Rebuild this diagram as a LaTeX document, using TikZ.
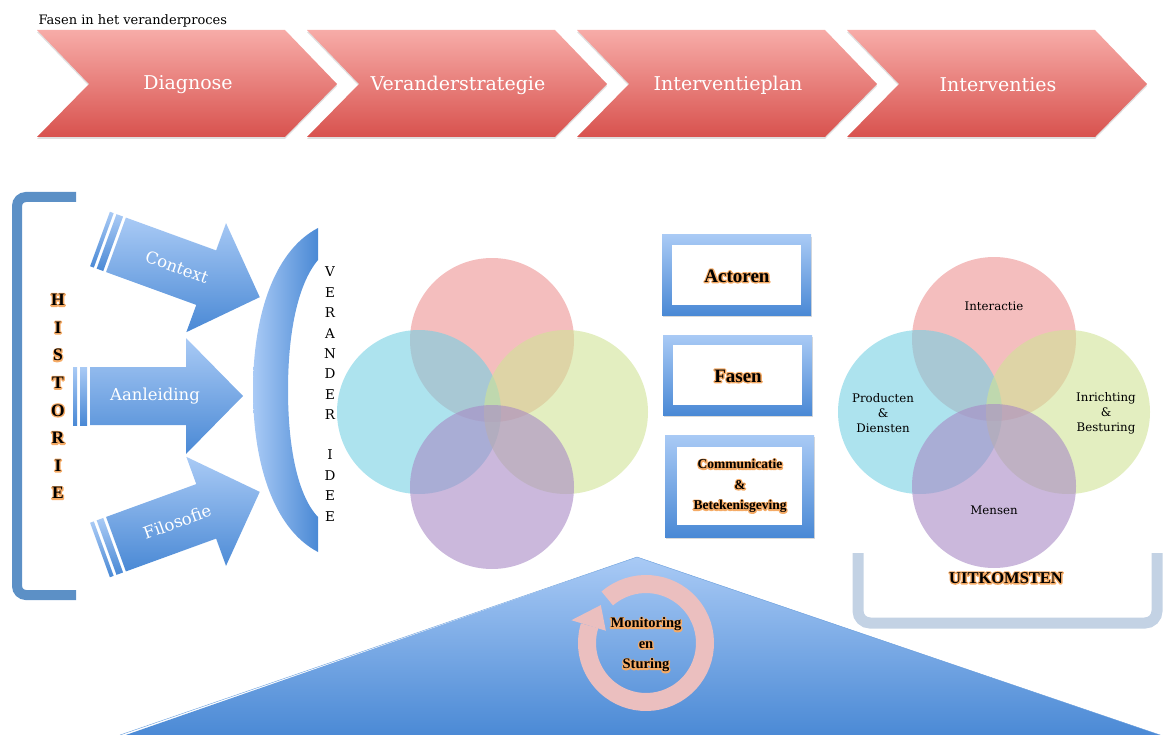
\documentclass[tikz,border=0pt]{standalone}
\usepackage{fontspec}
\setmainfont{DejaVu Serif}
\newfontfamily\vetfont{Liberation Serif}
\usetikzlibrary{shadows}

\definecolor{faseboven}{HTML}{F7ACA8}
\definecolor{faseonder}{HTML}{D8524E}
\definecolor{blauwlicht}{HTML}{A9CAF5}
\definecolor{blauwdonker}{HTML}{4A89D5}
\definecolor{haakblauw}{HTML}{5C90C6}
\definecolor{rood}{HTML}{ED9393}
\definecolor{cyaan}{HTML}{76D0E3}
\definecolor{groen}{HTML}{D0E396}
\definecolor{paars}{HTML}{A889C5}
\definecolor{ringroze}{HTML}{EBBFBF}
\definecolor{bakgrijs}{HTML}{C3D2E4}

% oranje gloed: eerst de omtrek van de letters in oranje, dan de letters zelf
\newcommand{\gloei}[1]{\leavevmode\rlap{\special{pdf:literal direct q 1 Tr 2.6 w 1 j 1 J 0.96 0.67 0.40 RG}#1\special{pdf:literal direct Q}}#1}

% blokpijl met strepen aan de staart: {startpunt}{hoek}{tekst}{naam}
\newcommand{\blokpijl}[4]{%
  \begin{scope}[shift={#1}, rotate=#2]
    \path[pijl] (0,-29) rectangle (4,29);
    \path[pijl] (7,-29) rectangle (14,29);
    \path[pijl] (17,-29) -- (113,-29) -- (113,-58) -- (170,0) -- (113,58)
      -- (113,29) -- (17,29) -- cycle;
    \node[pijltekst, rotate=#2] (#4) at (82,0) {#3};
  \end{scope}}

\tikzset{
  fase/.style={top color=faseboven, bottom color=faseonder,
    drop shadow={opacity=0.25, shadow xshift=0pt, shadow yshift=-2pt}},
  fasetekst/.style={text=white, font=\fontsize{19}{22}\selectfont},
  pijl/.style={top color=blauwlicht, bottom color=blauwdonker},
  pijltekst/.style={text=white, font=\fontsize{16.5}{19}\selectfont},
  cirkel/.style={fill opacity=0.6},
  lijst/.style={top color=blauwlicht, bottom color=blauwdonker,
    drop shadow={opacity=0.3, shadow xshift=1pt, shadow yshift=-2pt}},
  vettekst/.style={align=center, font=\vetfont\bfseries\fontsize{#1}{20.5}\selectfont},
  venntekst/.style={align=center, font=\fontsize{11.8}{15}\selectfont},
  letter/.style={font=\fontsize{13.5}{15}\selectfont},
}

\begin{document}
\begin{tikzpicture}[x=1pt, y=-1pt]
  \useasboundingbox (0,0) rectangle (1166,735);

  \node[anchor=base west, font=\fontsize{13}{15}\selectfont] (titel) at (35,25)
    {Fasen in het veranderproces};

  % de vier fasen
  \foreach \i/\naam in {0/Diagnose, 1/Veranderstrategie, 2/Interventieplan, 3/Interventies}{
    \begin{scope}[shift={(\i*270,0)}]
      \path[fase] (37,30) -- (285,30) -- (337,84) -- (285,137) -- (37,137)
        -- (89,84) -- cycle;
      \node[fasetekst] (fase-\i) at (188,85) {\naam};
    \end{scope}
  }

  % historie-haak
  \draw[haakblauw, line width=10pt, rounded corners=9pt]
    (76,197) -- (17,197) -- (17,595) -- (76,595);
  \foreach \l [count=\k] in {H,I,S,T,O,R,I,E}
    \node[vettekst=17.5] (hist-\k) at (58,{300+27.6*(\k-1)}) {\gloei{\l}};

  % drie pijlen naar het veranderidee
  \blokpijl{(100,239)}{-20}{Context}{context}
  \blokpijl{(73,396)}{0}{Aanleiding}{aanleiding}
  \blokpijl{(100,550)}{20}{Filosofie}{filosofie}

  \path[left color=blauwlicht, right color=blauwdonker]
    (318,228) .. controls (272,252) and (253,320) .. (253,390)
    .. controls (253,460) and (272,528) .. (318,552) -- (318,517)
    .. controls (297,495) and (288,445) .. (288,390)
    .. controls (288,335) and (297,285) .. (318,260) -- cycle;
  \foreach \l [count=\k] in {V,E,R,A,N,D,E,R}
    \node[letter] (ver-\k) at (330,{272+20.4*(\k-1)}) {\l};
  \foreach \l [count=\k] in {I,D,E,E}
    \node[letter] (idee-\k) at (330,{455+20.4*(\k-1)}) {\l};

  % venn zonder tekst
  \fill[cirkel, rood] (492,340) circle[radius=82];
  \fill[cirkel, cyaan] (419,412) circle[radius=82];
  \fill[cirkel, groen] (566,412) circle[radius=82];
  \fill[cirkel, paars] (492,487) circle[radius=82];

  % kaders
  \path[lijst] (662,235) rectangle (811,315);
  \fill[white] (672,245) rectangle (801,305);
  \node[vettekst=19] (actoren) at (737,276) {\gloei{Actoren}};
  \path[lijst] (663,335) rectangle (812,415);
  \fill[white] (673,345) rectangle (802,405);
  \node[vettekst=19] (fasen) at (738,376) {\gloei{Fasen}};
  \path[lijst] (665,435) rectangle (814,537);
  \fill[white] (677,447) rectangle (802,525);
  \node[vettekst=13.5] (communicatie) at (740,486)
    {\gloei{Communicatie}\\\gloei{\&}\\\gloei{Betekenisgeving}};

  % uitkomsten
  \draw[bakgrijs, line width=11pt, rounded corners=12pt]
    (858,553) -- (858,623) -- (1157,623) -- (1157,553);
  \fill[cirkel, rood] (994,339) circle[radius=82];
  \fill[cirkel, cyaan] (920,412) circle[radius=82];
  \fill[cirkel, groen] (1068,412) circle[radius=82];
  \fill[cirkel, paars] (994,486) circle[radius=82];
  \node[venntekst] (interactie) at (994,306) {Interactie};
  \node[venntekst] (producten) at (883,413) {Producten\\\&\\Diensten};
  \node[venntekst] (inrichting) at (1106,413) {Inrichting\\\&\\Besturing};
  \node[venntekst] (mensen) at (994,510) {Mensen};
  \node[vettekst=16.5] (uitkomsten) at (1006,578) {\gloei{UITKOMSTEN}};

  % driehoek met de cyclus
  \path[top color=blauwlicht, bottom color=blauwdonker]
    (637,557) -- (1166,737) -- (120,737) -- cycle;
  \draw[blauwdonker!85, thin] (120,735) -- (637,557) -- (1166,737);
  \begin{scope}[shift={(646,643)}, y={(0pt,1pt)}]
    \draw[ringroze, line width=18pt] (131:59) arc[start angle=131, end angle=-197, radius=59];
    \fill[ringroze] (163:42) -- (163:78) -- (140:59) -- cycle;
  \end{scope}
  \node[vettekst=14.5] (monitoring) at (646,645)
    {\gloei{Monitoring}\\\gloei{en}\\\gloei{Sturing}};
\end{tikzpicture}
\end{document}
